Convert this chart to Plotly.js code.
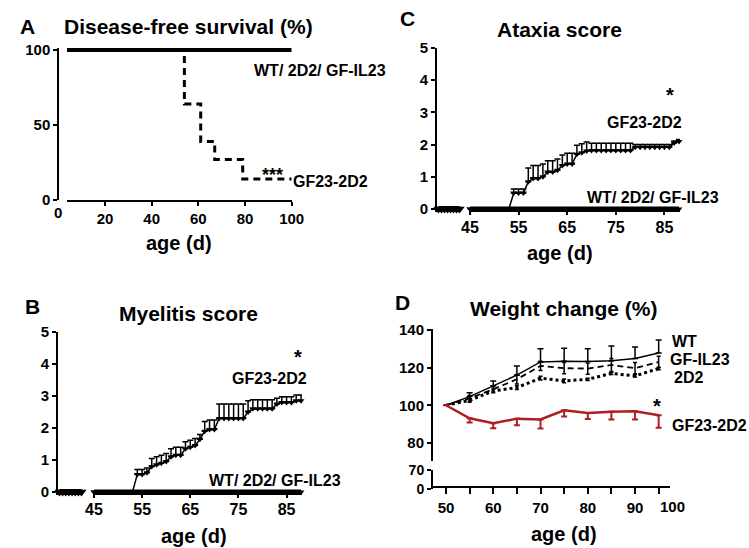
<!DOCTYPE html>
<html>
<head>
<meta charset="utf-8">
<script src="https://cdn.plot.ly/plotly-3.0.1.min.js"></script>
<style>
  html, body { margin: 0; padding: 0; background: #fff; }
  #chart { width: 749px; height: 548px; }
</style>
</head>
<body>
<div id="chart"></div>
<script>
// ---- panel A: disease-free survival ----
const survDays = [0, 54, 61, 67, 79, 100];
const survGF23 = [100, 64, 39, 27, 14, 14];
const survCtrlDays = [0, 100];
const survCtrl = [100, 100];

// ---- panels B/C: clinical scores ----
const brkDays = [36, 37, 38, 39, 40, 41, 42, 43];
const brkZero = [0, 0, 0, 0, 0, 0, 0, 0];
const scoreDays = [45, 46, 47, 48, 49, 50, 51, 52, 53, 54, 55, 56, 57, 58, 59, 60, 61, 62, 63, 64, 65, 66,
  67, 68, 69, 70, 71, 72, 73, 74, 75, 76, 77, 78, 79, 80, 81, 82, 83, 84, 85, 86, 87, 88];
const ctrlZero = [0, 0, 0, 0, 0, 0, 0, 0, 0, 0, 0, 0, 0, 0, 0, 0, 0, 0, 0, 0, 0, 0,
  0, 0, 0, 0, 0, 0, 0, 0, 0, 0, 0, 0, 0, 0, 0, 0, 0, 0, 0, 0, 0, 0];
const myelGF23 = [0, 0, 0, 0, 0, 0, 0, 0, 0, 0.55, 0.55, 0.6, 0.8, 0.85, 0.9, 0.95, 1.1, 1.15, 1.15, 1.35, 1.4, 1.45,
  1.65, 1.9, 1.95, 1.95, 2.3, 2.3, 2.3, 2.3, 2.3, 2.3, 2.5, 2.6, 2.6, 2.6, 2.6, 2.6, 2.75, 2.8, 2.8, 2.8, 2.85, 2.85];
const myelErr = [0, 0, 0, 0, 0, 0, 0, 0, 0, 0.15, 0.15, 0.15, 0.25, 0.25, 0.25, 0.25, 0.25, 0.25, 0.25, 0.22, 0.22, 0.22,
  0.15, 0.3, 0.3, 0.3, 0.45, 0.45, 0.45, 0.45, 0.45, 0.45, 0.35, 0.28, 0.28, 0.28, 0.28, 0.28, 0.18, 0.18, 0.18, 0.18, 0.18, 0.18];
const ataxGF23 = [0, 0, 0, 0, 0, 0, 0, 0, 0, 0.5, 0.5, 0.5, 0.85, 0.95, 0.95, 1.0, 1.15, 1.15, 1.2, 1.35, 1.4, 1.4,
  1.7, 1.75, 1.8, 1.82, 1.82, 1.82, 1.82, 1.82, 1.82, 1.82, 1.82, 1.82, 1.92, 1.92, 1.92, 1.92, 1.92, 1.92, 1.92, 1.92, 2.05, 2.1];
const ataxErr = [0, 0, 0, 0, 0, 0, 0, 0, 0, 0.12, 0.12, 0.12, 0.42, 0.4, 0.4, 0.4, 0.35, 0.35, 0.35, 0.33, 0.33, 0.33,
  0.28, 0.28, 0.28, 0.22, 0.22, 0.22, 0.22, 0.22, 0.22, 0.22, 0.22, 0.22, 0.08, 0.08, 0.08, 0.08, 0.08, 0.08, 0.08, 0.08, 0.06, 0.06];

// ---- panel D: weight change ----
const wDays = [50, 55, 60, 65, 70, 75, 80, 85, 90, 95];
const wNone = [0, 0, 0, 0, 0, 0, 0, 0, 0, 0];
const wWT = [100, 104.6, 110.3, 116, 123, 123.4, 123.2, 123.6, 124.8, 127.8];
const wWTerr = [0, 2.1, 2.6, 4.9, 7, 6.9, 6.8, 7.9, 6.1, 6.9];
const wIL23 = [100, 103.7, 108.5, 113.8, 120.9, 119.7, 119.5, 121.4, 119.7, 123];
const wIL23err = [0, 1.5, 1.5, 2.5, 2.5, 3, 3, 3.5, 3, 3];
const w2D2 = [100, 102.6, 107.6, 109.4, 114.4, 112.9, 113.8, 116.9, 115.6, 119.5];
const w2D2err = [0, 1, 1, 1, 1, 1, 0.6, 0.6, 0.6, 0.6];
const wGF23 = [100, 93.1, 90.4, 92.9, 92.5, 97.3, 95.9, 96.6, 96.8, 94.7];
const wGF23err = [0, 2.3, 2.6, 3.5, 4.9, 3.3, 3.2, 4.1, 4.3, 6.6];
const wTickVals = [50, 55, 60, 65, 70, 75, 80, 85, 90, 95];
const wTickText = ['50', '', '60', '', '70', '', '80', '', '90', ''];

const FONT = 'Liberation Sans, Arial, sans-serif';
const RED = '#b01e23';
const X = p => p / 749;
const Y = p => 1 - p / 548;

const axBase = {
  showline: true, linecolor: '#000', linewidth: 2,
  ticks: 'outside', ticklen: 4, tickwidth: 2, tickcolor: '#000',
  showgrid: false, zeroline: false, fixedrange: true,
  tickfont: { family: FONT, size: 15, weight: 'bold', color: '#000' }
};
const ax = o => Object.assign({}, axBase, o);
const bigTick = { family: FONT, size: 16, weight: 'bold', color: '#000' };

const tri = { symbol: 'triangle-down', size: 6, color: '#000', line: { width: 0 } };
const triBig = { symbol: 'triangle-down', size: 9, color: '#000', line: { width: 0 } };

function scorePanel(xb, xm, ya, vals, errs) {
  return [
    { x: brkDays, y: brkZero, xaxis: xb, yaxis: ya, mode: 'lines+markers', cliponaxis: false,
      line: { color: '#000', width: 6 }, marker: triBig },
    { x: scoreDays, y: ctrlZero, xaxis: xm, yaxis: ya, mode: 'lines+markers', cliponaxis: false,
      line: { color: '#000', width: 5 }, marker: tri },
    { x: scoreDays, y: vals, xaxis: xm, yaxis: ya, mode: 'lines+markers', cliponaxis: false,
      line: { color: '#000', width: 1.5 }, marker: tri,
      error_y: { type: 'data', symmetric: false, array: errs, arrayminus: ctrlZero,
                 color: '#000', thickness: 1.5, width: 3 } }
  ];
}

const traces = [
  // A
  { x: survDays, y: survGF23, xaxis: 'x', yaxis: 'y', mode: 'lines', line: { shape: 'hv', color: '#000', width: 3, dash: '7px,5px' } },
  { x: survCtrlDays, y: survCtrl, xaxis: 'x', yaxis: 'y', mode: 'lines', line: { color: '#000', width: 4 } },
  // B
  ...scorePanel('x3', 'x4', 'y3', myelGF23, myelErr),
  // C
  ...scorePanel('x5', 'x6', 'y5', ataxGF23, ataxErr),
  // D (lower broken segment holds no data)
  { x: [], y: [], xaxis: 'x7', yaxis: 'y8', mode: 'markers', hoverinfo: 'skip' },
  { x: wDays, y: w2D2, xaxis: 'x7', yaxis: 'y7', mode: 'lines', line: { color: '#000', width: 3, dash: 'dot' },
    error_y: { type: 'data', array: w2D2err, color: '#000', thickness: 1.5, width: 2 } },
  { x: wDays, y: wIL23, xaxis: 'x7', yaxis: 'y7', mode: 'lines', line: { color: '#000', width: 1.8, dash: '6px,4px' },
    error_y: { type: 'data', array: wIL23err, color: '#000', thickness: 1.5, width: 2 } },
  { x: wDays, y: wWT, xaxis: 'x7', yaxis: 'y7', mode: 'lines', line: { color: '#000', width: 1.5 },
    error_y: { type: 'data', symmetric: false, array: wWTerr, arrayminus: wNone, color: '#000', thickness: 1.5, width: 3 } },
  { x: wDays, y: wGF23, xaxis: 'x7', yaxis: 'y7', mode: 'lines', line: { color: RED, width: 2.5 },
    error_y: { type: 'data', symmetric: false, array: wNone, arrayminus: wGF23err, color: RED, thickness: 2, width: 3 } }
];

function txt(text, x, y, size, xanchor) {
  return { text: text, x: X(x), y: Y(y), xref: 'paper', yref: 'paper', showarrow: false,
           xanchor: xanchor || 'center', yanchor: 'middle',
           font: { family: FONT, size: size, weight: 'bold', color: '#000' } };
}

const annotations = [
  txt('A', 28, 26, 21), txt('Disease-free survival (%)', 188, 26, 21),
  txt('age (d)', 179, 243, 20), txt('0', 58, 213, 15),
  txt('WT/ 2D2/ GF-IL23', 252, 70, 16, 'left'), txt('***', 272, 175, 18),
  txt('GF23-2D2', 291, 181, 16, 'left'),

  txt('C', 407, 19, 21), txt('Ataxia score', 559, 30, 21),
  txt('age (d)', 560, 253, 20), txt('*', 670, 95, 20),
  txt('GF23-2D2', 605, 122, 16, 'left'), txt('WT/ 2D2/ GF-IL23', 585, 197, 16, 'left'),

  txt('B', 32, 306, 21), txt('Myelitis score', 189, 313, 21),
  txt('age (d)', 194, 536, 20), txt('*', 298, 357, 20),
  txt('GF23-2D2', 230, 378, 16, 'left'), txt('WT/ 2D2/ GF-IL23', 207, 480, 16, 'left'),

  txt('D', 402, 302, 21), txt('Weight change (%)', 563, 308, 21),
  txt('age (d)', 564, 534, 20), txt('100', 672, 506, 15),
  txt('WT', 670, 341, 16, 'left'), txt('GF-IL23', 668, 359, 16, 'left'),
  txt('2D2', 672, 377, 16, 'left'), txt('*', 657, 406, 20),
  txt('GF23-2D2', 670, 425, 16, 'left')
];

const noTicks = { ticks: '', showticklabels: false };
const layout = {
  width: 749, height: 548, margin: { l: 0, r: 0, t: 0, b: 0 },
  paper_bgcolor: '#fff', plot_bgcolor: 'rgba(0,0,0,0)', showlegend: false,
  font: { family: FONT, color: '#000' },
  // A
  xaxis: ax({ domain: [X(67), X(291.7)], range: [3.7, 100], tickvals: [20, 40, 60, 80, 100], anchor: 'y' }),
  yaxis: ax({ domain: [Y(200), Y(47.7)], range: [0, 101.5], tickvals: [0, 50, 100], anchor: 'free', position: X(58.3) }),
  // B
  xaxis3: ax(Object.assign({ domain: [X(58), X(83)], range: [35.5, 43.5], anchor: 'y3' }, noTicks)),
  xaxis4: ax({ domain: [X(93), X(302)], range: [44.8, 88.2], tickvals: [45, 55, 65, 75, 85], anchor: 'y3',
               ticklen: 3, ticklabelstandoff: -3, tickfont: bigTick }),
  yaxis3: ax({ domain: [Y(493.3), Y(332)], range: [-0.04, 5], tickvals: [0, 1, 2, 3, 4, 5], anchor: 'x3' }),
  // C
  xaxis5: ax(Object.assign({ domain: [X(437), X(461)], range: [35.5, 43.5], anchor: 'y5' }, noTicks)),
  xaxis6: ax({ domain: [X(469), X(680)], range: [44.8, 88.2], tickvals: [45, 55, 65, 75, 85], anchor: 'y5',
               ticklen: 3, ticklabelstandoff: -2, tickfont: bigTick }),
  yaxis5: ax({ domain: [Y(210.3), Y(48)], range: [-0.04, 5], tickvals: [0, 1, 2, 3, 4, 5], anchor: 'x5' }),
  // D
  xaxis7: ax({ domain: [X(432), X(670)], range: [47.04, 97.4], tickvals: wTickVals, ticktext: wTickText,
               anchor: 'free', position: Y(487), ticklen: 6, ticklabelstandoff: 1 }),
  yaxis7: ax({ domain: [Y(461), Y(329)], range: [70.4, 140.5], tickvals: [80, 100, 120, 140], anchor: 'free', position: X(432) }),
  yaxis8: ax({ domain: [Y(489), Y(470)], range: [0, 70], tickvals: [0, 70], anchor: 'free', position: X(432),
               tickfont: { family: FONT, size: 14, weight: 'bold', color: '#000' } }),
  annotations: annotations
};

Plotly.newPlot('chart', traces, layout, { staticPlot: true, displayModeBar: false });
</script>
</body>
</html>
